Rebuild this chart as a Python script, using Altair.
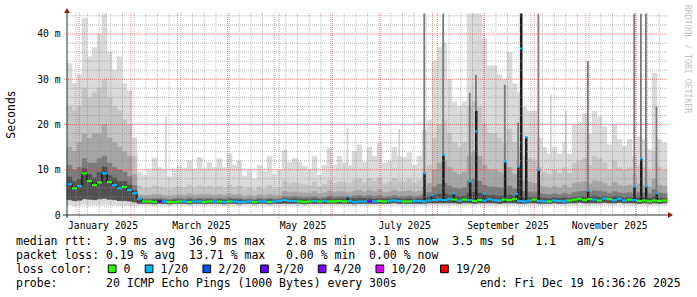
import altair as alt
import pandas as pd

MONO = "DejaVu Sans Mono"

# ---------------- data ----------------
graph_start = "2024-12-24 16:36:26"
graph_end = "2025-12-19 16:36:26"
column_days = 3  # each smoke column summarises three days

rtt_max = [
    33.5, 29.0, 31.0, 43.5, 35.0, 37.0, 40.0, 44.5, 36.0, 32.0, 35.0, 29.0, 27.5, 17.0, 9.5,
    8.7, 9.8, 12.6, 10.5, 10.0, 8.5, 10.0, 10.8, 10.3, 12.0, 10.0, 12.7, 10.3, 11.7, 10.5,
    12.5, 10.5, 13.5, 11.0, 12.0, 8.6, 10.0, 8.0, 11.0, 9.5, 13.0, 9.0, 10.0, 14.4, 11.7,
    12.5, 11.7, 10.8, 10.0, 13.0, 8.8, 11.0, 14.8, 11.0, 13.0, 11.5, 11.0, 14.0, 15.5, 11.7,
    15.0, 13.0, 15.9, 11.5, 12.0, 15.0, 13.0, 12.7, 13.8, 11.0, 13.0, 18.7, 21.0, 34.0, 37.0,
    38.0, 30.0, 25.0, 24.0, 25.0, 44.5, 44.5, 44.5, 39.0, 33.0, 33.0, 31.0, 30.0, 36.0, 29.0,
    27.0, 24.0, 23.0, 23.0, 17.0, 15.0, 13.5, 15.0, 13.5, 16.0, 13.5, 20.0, 20.4, 22.5, 18.0,
    23.0, 21.7, 19.5, 15.5, 20.0, 16.7, 15.2, 16.7, 13.0, 17.3, 16.7, 14.5, 31.3, 16.7, 15.9,
]
rtt_p90 = [
    24.0, 23.0, 24.0, 28.0, 26.0, 27.0, 28.0, 30.0, 26.0, 24.0, 23.0, 21.0, 20.0, 13.0, 6.5,
    5.8, 6.0, 6.5, 6.2, 5.9, 5.6, 6.0, 6.3, 6.1, 6.6, 6.0, 6.5, 6.2, 6.4, 6.0,
    6.3, 6.0, 6.6, 6.2, 6.4, 5.6, 6.0, 5.5, 6.2, 5.8, 6.5, 5.7, 6.0, 7.5, 7.0,
    7.2, 7.0, 6.8, 6.5, 7.3, 6.2, 6.8, 7.6, 7.0, 7.4, 7.2, 7.0, 7.6, 8.0, 7.2,
    8.0, 7.5, 8.2, 7.0, 7.3, 8.0, 7.5, 7.4, 7.8, 7.0, 7.6, 9.5, 11.0, 17.0, 20.0,
    21.0, 18.0, 16.0, 15.0, 16.0, 24.0, 25.0, 24.0, 20.0, 18.0, 18.0, 17.0, 16.0, 19.0, 16.0,
    15.0, 13.0, 12.5, 12.0, 10.5, 9.5, 9.0, 9.8, 9.2, 10.5, 9.2, 11.5, 12.0, 12.5, 11.0,
    13.0, 12.5, 11.5, 10.0, 12.0, 10.5, 10.0, 10.5, 9.0, 10.8, 10.5, 9.6, 14.0, 10.5, 10.0,
]
rtt_p75 = [
    15.0, 14.0, 16.0, 18.0, 17.0, 18.0, 18.0, 20.0, 17.0, 16.0, 15.0, 14.0, 13.0, 9.0, 4.5,
    4.3, 4.4, 4.6, 4.5, 4.3, 4.2, 4.4, 4.5, 4.4, 4.7, 4.4, 4.6, 4.5, 4.6, 4.4,
    4.5, 4.4, 4.7, 4.5, 4.6, 4.2, 4.4, 4.2, 4.5, 4.3, 4.6, 4.3, 4.4, 5.3, 5.0,
    5.1, 5.0, 4.9, 4.8, 5.2, 4.7, 4.9, 5.3, 5.0, 5.2, 5.1, 5.0, 5.3, 5.5, 5.1,
    5.5, 5.2, 5.6, 5.0, 5.1, 5.5, 5.2, 5.2, 5.4, 5.0, 5.3, 6.2, 7.0, 10.0, 11.5,
    12.0, 10.5, 9.5, 9.0, 9.5, 13.0, 14.0, 13.0, 11.0, 10.0, 10.0, 9.5, 9.0, 10.5, 9.0,
    8.5, 7.5, 7.3, 7.0, 6.5, 6.2, 6.0, 6.3, 6.0, 6.6, 6.0, 7.0, 7.2, 7.4, 6.8,
    7.6, 7.4, 7.0, 6.4, 7.2, 6.6, 6.4, 6.6, 6.0, 6.8, 6.6, 6.2, 8.0, 6.6, 6.4,
]
rtt_p60 = [
    11.0, 10.0, 10.5, 12.5, 11.5, 11.5, 12.5, 13.0, 11.5, 10.5, 10.0, 9.5, 8.5, 6.5, 3.8,
    3.6, 3.6, 3.7, 3.7, 3.6, 3.5, 3.6, 3.7, 3.6, 3.8, 3.6, 3.7, 3.7, 3.7, 3.6,
    3.7, 3.6, 3.8, 3.7, 3.7, 3.5, 3.6, 3.5, 3.7, 3.6, 3.7, 3.6, 3.6, 4.1, 4.0,
    4.1, 4.0, 3.9, 3.9, 4.1, 3.8, 3.9, 4.2, 4.0, 4.1, 4.1, 4.0, 4.2, 4.3, 4.1,
    4.3, 4.1, 4.3, 4.0, 4.1, 4.3, 4.1, 4.1, 4.2, 4.0, 4.2, 4.6, 5.0, 6.2, 6.8,
    7.0, 6.4, 6.0, 5.8, 6.0, 7.5, 8.0, 7.5, 6.6, 6.2, 6.2, 6.0, 5.8, 6.4, 5.8,
    5.6, 5.2, 5.1, 5.0, 4.8, 4.6, 4.5, 4.7, 4.5, 4.8, 4.5, 5.0, 5.2, 5.3, 5.0,
    5.4, 5.3, 5.1, 4.8, 5.2, 4.9, 4.8, 4.9, 4.5, 5.0, 4.9, 4.7, 5.6, 4.9, 4.8,
]
rtt_core = [
    8.4, 7.4, 7.9, 10.2, 9.0, 8.2, 9.4, 10.6, 8.8, 8.2, 7.4, 7.4, 6.6, 5.4, 3.5,
    3.3, 3.3, 3.4, 3.4, 3.3, 3.2, 3.3, 3.4, 3.3, 3.4, 3.3, 3.4, 3.3, 3.4, 3.3,
    3.4, 3.3, 3.4, 3.4, 3.4, 3.2, 3.3, 3.2, 3.4, 3.3, 3.4, 3.3, 3.3, 3.6, 3.5,
    3.6, 3.5, 3.4, 3.4, 3.6, 3.4, 3.5, 3.7, 3.5, 3.6, 3.6, 3.5, 3.7, 3.7, 3.6,
    3.6, 3.5, 3.6, 3.5, 3.6, 3.7, 3.6, 3.5, 3.6, 3.5, 3.6, 3.8, 4.0, 4.4, 4.6,
    4.7, 4.4, 4.2, 4.1, 4.2, 4.8, 5.0, 4.8, 4.4, 4.3, 4.3, 4.2, 4.2, 4.4, 4.2,
    4.0, 3.9, 3.9, 3.9, 3.8, 3.7, 3.6, 3.8, 3.7, 3.8, 3.7, 3.9, 4.1, 4.0, 4.0,
    4.2, 4.0, 4.1, 3.9, 4.1, 4.0, 3.8, 3.9, 3.8, 3.9, 3.8, 3.7, 4.0, 3.8, 3.7,
]
rtt_low = [
    3.4, 3.2, 3.3, 3.6, 3.5, 3.4, 3.6, 3.7, 3.5, 3.4, 3.2, 3.2, 3.1, 2.9, 2.6,
    2.6, 2.6, 2.5, 2.6, 2.6, 2.5, 2.6, 2.6, 2.6, 2.5, 2.6, 2.6, 2.5, 2.6, 2.6,
    2.6, 2.5, 2.6, 2.6, 2.5, 2.6, 2.6, 2.5, 2.6, 2.6, 2.5, 2.6, 2.6, 2.6, 2.6,
    2.6, 2.6, 2.5, 2.6, 2.6, 2.6, 2.6, 2.6, 2.6, 2.6, 2.6, 2.6, 2.5, 2.6, 2.6,
    2.6, 2.6, 2.6, 2.6, 2.6, 2.7, 2.6, 2.6, 2.6, 2.6, 2.6, 2.6, 2.7, 2.7, 2.7,
    2.7, 2.7, 2.7, 2.6, 2.7, 2.7, 2.6, 2.7, 2.7, 2.7, 2.7, 2.6, 2.7, 2.7, 2.7,
    2.6, 2.6, 2.7, 2.7, 2.6, 2.6, 2.6, 2.7, 2.6, 2.6, 2.7, 2.7, 2.8, 2.7, 2.7,
    2.7, 2.7, 2.8, 2.7, 2.7, 2.8, 2.7, 2.7, 2.7, 2.6, 2.7, 2.6, 2.7, 2.6, 2.7,
]
rtt_min = [
    2.2, 2.1, 2.2, 2.3, 2.2, 2.2, 2.3, 2.3, 2.2, 2.2, 2.1, 2.1, 2.1, 2.1, 2.2,
    2.2, 2.2, 2.1, 2.2, 2.2, 2.1, 2.2, 2.2, 2.2, 2.1, 2.2, 2.2, 2.1, 2.2, 2.2,
    2.2, 2.1, 2.2, 2.2, 2.1, 2.2, 2.2, 2.1, 2.2, 2.2, 2.1, 2.2, 2.2, 2.2, 2.2,
    2.2, 2.2, 2.1, 2.2, 2.2, 2.2, 2.2, 2.2, 2.2, 2.2, 2.2, 2.2, 2.1, 2.2, 2.2,
    2.2, 2.2, 2.2, 2.2, 2.2, 2.2, 2.2, 2.2, 2.2, 2.2, 2.2, 2.2, 2.2, 2.2, 2.2,
    2.2, 2.2, 2.2, 2.2, 2.2, 2.2, 2.2, 2.2, 2.2, 2.2, 2.2, 2.2, 2.2, 2.2, 2.2,
    2.2, 2.2, 2.2, 2.2, 2.2, 2.2, 2.2, 2.2, 2.2, 2.2, 2.2, 2.2, 2.3, 2.2, 2.2,
    2.2, 2.2, 2.3, 2.2, 2.2, 2.3, 2.2, 2.2, 2.2, 2.2, 2.2, 2.2, 2.2, 2.2, 2.2,
]
rtt_median = [
    6.8, 5.9, 6.4, 9.2, 7.5, 6.6, 7.2, 9.2, 7.3, 6.6, 5.9, 6.2, 5.5, 4.8, 3.6,
    3.0, 3.0, 2.9, 3.0, 3.0, 2.9, 2.9, 3.0, 3.0, 2.9, 3.0, 3.0, 2.9, 3.0, 3.0,
    3.0, 2.9, 3.0, 3.0, 2.9, 2.9, 3.0, 2.9, 3.0, 3.0, 2.9, 3.0, 3.1, 3.3, 3.1,
    3.1, 3.0, 2.9, 3.0, 3.1, 3.0, 3.1, 3.0, 3.0, 3.1, 3.0, 3.1, 2.9, 3.0, 3.0,
    3.0, 3.0, 3.1, 3.0, 3.1, 3.2, 3.1, 3.0, 3.0, 3.1, 3.1, 3.0, 3.2, 3.3, 3.4,
    3.3, 3.5, 3.4, 3.2, 3.4, 3.3, 3.1, 3.3, 3.2, 3.5, 3.3, 3.2, 3.4, 3.3, 3.5,
    3.1, 3.0, 3.2, 3.4, 3.1, 3.0, 3.0, 3.2, 3.1, 3.0, 3.2, 3.4, 3.6, 3.3, 3.5,
    3.4, 3.2, 3.6, 3.5, 3.3, 3.6, 3.2, 3.4, 3.3, 3.1, 3.2, 3.0, 3.2, 3.1, 3.2,
]
loss_count = [
    1, 0, 1, 0, 0, 0, 0, 1, 0, 1, 1, 0, 1, 1, 1,
    0, 0, 0, 3, 1, 0, 0, 0, 1, 0, 1, 1, 0, 0, 1,
    0, 1, 0, 1, 1, 1, 1, 0, 1, 1, 0, 1, 1, 1, 1,
    1, 0, 0, 0, 1, 0, 1, 0, 0, 0, 0, 1, 1, 1, 1,
    4, 1, 0, 0, 1, 1, 1, 0, 0, 1, 1, 1, 1, 1, 1,
    1, 1, 0, 1, 0, 1, 0, 0, 1, 1, 1, 1, 0, 0, 0,
    1, 1, 1, 0, 1, 1, 0, 1, 1, 1, 0, 0, 0, 0, 0,
    1, 0, 1, 0, 1, 1, 1, 0, 1, 0, 0, 0, 0, 0, 0,
]

# short latency spikes (one-day values)
spike_time = ["2025-06-10 12:00", "2025-07-26 12:00", "2025-07-30 20:00", "2025-08-06 20:00",
              "2025-08-13 02:00", "2025-08-22 20:00", "2025-08-26 12:00", "2025-08-31 02:00",
              "2025-09-12 20:00", "2025-09-19 20:00", "2025-09-20 20:00", "2025-09-22 12:00",
              "2025-09-25 12:00", "2025-10-03 00:00", "2025-11-01 16:00", "2025-11-29 12:00",
              "2025-12-03 12:00", "2025-12-06 12:00", "2025-12-12 20:00"]
spike_median = [4.1, 9.2, 4.4, 13.3, 4.8, 7.4, 18.5, 4.7, 11.8, 4.6, 10.7, 36.8, 17.2, 10.0,
                5.4, 6.3, 12.5, 6.4, 4.8]
spike_dark_top = [4.1, 9.2, 4.4, 13.3, 4.8, 7.4, 23.0, 4.7, 11.8, 4.6, 10.7, 44.5, 17.2, 10.0,
                  5.4, 6.3, 12.5, 6.4, 4.8]
spike_gray_top = [4.1, 44.5, 4.4, 44.5, 4.8, 27.0, 31.0, 4.7, 28.8, 4.6, 20.4, 44.5, 17.2, 44.5,
                  34.0, 44.5, 44.5, 44.5, 24.0]
spike_base = [2.9] * len(spike_time)
spike_loss = [1] * len(spike_time)

thin_time = ["2025-02-21 12:00", "2025-06-10 12:00", "2025-07-11 12:00", "2025-10-10 12:00",
             "2025-10-19 12:00"]
thin_top = [21.6, 19.3, 19.0, 26.5, 23.0]

loss_levels = [0, 1, 2, 3, 4, 10, 19]
loss_colors = ["#26ff00", "#00b8ff", "#0059ff", "#5e00ff", "#7e00ff", "#dd00ff", "#ff0000"]
loss_labels = ["0", "1/20", "2/20", "3/20", "4/20", "10/20", "19/20"]

y_ticks = [0, 10, 20, 30, 40]
x_label_months = [1, 3, 5, 7, 9, 11]

rtt_fields = ["3.9 ms avg", "36.9 ms max", "2.8 ms min", "3.1 ms now", "3.5 ms sd", "1.1", "am/s"]
rtt_cols = [13, 25, 39, 51, 63, 75, 81]
pl_fields = ["0.19 % avg", "13.71 % max", "0.00 % min", "0.00 % now"]
pl_cols = [13, 25, 39, 51]
probe_text = "20 ICMP Echo Pings (1000 Bytes) every 300s"
end_text = "end: Fri Dec 19 16:36:26 2025"
watermark = "RRDTOOL / TOBI OETIKER"

# ---------------- frames ----------------
t_start = pd.Timestamp(graph_start)
n = len(rtt_max)
col_start = [t_start + pd.Timedelta(days=column_days * k) for k in range(n)]
col_end = [t_start + pd.Timedelta(days=column_days * (k + 1)) for k in range(n)]
cols = pd.DataFrame({
    "t0": col_start, "t1": col_end, "mn": rtt_min, "lo": rtt_low, "core": rtt_core,
    "p60": rtt_p60, "p75": rtt_p75, "p90": rtt_p90, "mx": rtt_max,
    "med": rtt_median, "loss": loss_count,
})
spk_t = pd.to_datetime(spike_time)
spikes = pd.DataFrame({
    "t0": spk_t, "t1": spk_t + pd.Timedelta(hours=36), "tg": spk_t + pd.Timedelta(hours=26),
    "base": spike_base, "med": spike_median, "dark": spike_dark_top,
    "gray": spike_gray_top, "loss": spike_loss,
})
thn_t = pd.to_datetime(thin_time)
thin = pd.DataFrame({"t0": thn_t, "t1": thn_t + pd.Timedelta(hours=24),
                     "lo": [2.5] * len(thin_time), "hi": thin_top})

month_lines = pd.DataFrame({"t": pd.date_range("2025-01-01", periods=12, freq="MS")})
week_lines = pd.DataFrame({"t": pd.date_range("2024-12-30", "2025-12-15", freq="7D")})
y_major = pd.DataFrame({"v": [10, 20, 30, 40]})
y_minor = pd.DataFrame({"v": [v for v in range(2, 45, 2) if v % 10]})
one = pd.DataFrame({"a": [0]})

# ---------------- scales / axes ----------------
W, H = 600, 202
x_scale = alt.Scale(domain=[
    alt.DateTime(year=2024, month=12, date=24, hours=16, minutes=36, seconds=26),
    alt.DateTime(year=2025, month=12, date=19, hours=16, minutes=36, seconds=26)], nice=False)
y_scale = alt.Scale(domain=[0, 44.64], nice=False, zero=False)

x_axis = alt.Axis(
    values=[alt.DateTime(year=2025, month=m, date=15) for m in x_label_months],
    format="%B %Y", grid=False, ticks=False, domain=False, labelFont=MONO,
    labelFontSize=9.7, labelColor="#000000", labelPadding=5, title=None,
    labelOverlap=False, labelFlush=False)
y_axis = alt.Axis(
    values=y_ticks,
    labelExpr="datum.value == 0 ? '0\u00a0\u00a0' : datum.value + '\u00a0m'",
    grid=False, ticks=False, domain=False, labelFont=MONO, labelFontSize=9.7,
    labelColor="#000000", labelPadding=7, title="Seconds", titleFont=MONO,
    titleFontSize=11.5, titleFontWeight="normal", titleColor="#000000",
    titleAngle=270, titleX=-56, titleY=101, titleAlign="center", titleBaseline="middle")


def X(field):
    return alt.X(field, scale=x_scale, axis=x_axis)


def Y(field):
    return alt.Y(field, scale=y_scale, axis=y_axis)


def band(lo, hi, color):
    return alt.Chart(cols).mark_rect(color=color, stroke=color, strokeWidth=0.5).encode(
        x=X("t0:T"), x2="t1:T", y=Y(f"{lo}:Q"), y2=f"{hi}:Q")


layers = [band("mn", "mx", "#dadada")]
layers.append(alt.Chart(thin).mark_rect(color="#d0d0d0").encode(
    x=X("t0:T"), x2="t1:T", y=Y("lo:Q"), y2="hi:Q"))
layers += [band("lo", "p90", "#c4c4c4"), band("lo", "p75", "#a6a6a6"),
           band("lo", "p60", "#7c7c7c"), band("lo", "core", "#505050")]

layers.append(alt.Chart(spikes).mark_rect(color="#7a7a7a").encode(
    x=X("t0:T"), x2="tg:T", y=Y("base:Q"), y2="gray:Q"))
layers.append(alt.Chart(spikes).mark_rect(color="#1e1e1e").encode(
    x=X("t0:T"), x2="t1:T", y=Y("base:Q"), y2="dark:Q"))

# grid
dash = [1, 1]
layers.append(alt.Chart(week_lines).mark_rule(color="#8c8c8c", opacity=0.6, strokeDash=dash).encode(
    x=X("t:T")))
layers.append(alt.Chart(y_minor).mark_rule(color="#8c8c8c", opacity=0.6, strokeDash=dash).encode(
    y=Y("v:Q")))
layers.append(alt.Chart(month_lines).mark_rule(color="#e83030", opacity=0.55, strokeDash=dash).encode(
    x=X("t:T"), y=alt.value(0), y2=alt.value(H + 3)))
layers.append(alt.Chart(y_major).mark_rule(color="#e83030", opacity=0.55, strokeDash=dash).encode(
    y=Y("v:Q"), x=alt.value(-3), x2=alt.value(W)))

# median
layers.append(alt.Chart(cols).mark_line(color="#000000", strokeWidth=1, interpolate="step-after").encode(
    x=X("t0:T"), y=Y("med:Q")))
loss_scale = alt.Scale(domain=loss_levels, range=loss_colors)
layers.append(alt.Chart(cols).mark_rule(strokeWidth=2.2).encode(
    x=X("t0:T"), x2="t1:T", y=Y("med:Q"),
    color=alt.Color("loss:N", scale=loss_scale, legend=None)))
layers.append(alt.Chart(spikes).mark_rule(strokeWidth=2.2).encode(
    x=X("t0:T"), x2="t1:T", y=Y("med:Q"),
    color=alt.Color("loss:N", scale=loss_scale, legend=None)))

# axis lines and arrows
layers.append(alt.Chart(one).mark_rule(color="#303030", strokeWidth=1).encode(
    x=alt.value(-4), x2=alt.value(W + 2), y=alt.value(H)))
layers.append(alt.Chart(one).mark_rule(color="#303030", strokeWidth=1).encode(
    x=alt.value(0), y=alt.value(-1), y2=alt.value(H + 3)))
layers.append(alt.Chart(one).mark_point(shape="triangle-right", filled=True, size=34,
                                        color="#9a1414", opacity=1).encode(
    x=alt.value(W + 3.5), y=alt.value(H)))
layers.append(alt.Chart(one).mark_point(shape="triangle-up", filled=True, size=34,
                                        color="#9a1414", opacity=1).encode(
    x=alt.value(0), y=alt.value(-2.5)))

# watermark
layers.append(alt.Chart(one).mark_text(angle=90, font=MONO, fontSize=8.2, color="#c2c2c2",
                                       align="center", baseline="middle").encode(
    x=alt.value(620), y=alt.value(46), text=alt.value(watermark)))

# legend text
OX, OY = 67, 13
CW = 0.602 * 11.5
NB = "\u00a0"


def build(label, fields, positions):
    s = label
    for f, c in zip(fields, positions):
        s = s.ljust(c) + f
    return s.replace(" ", NB)


lines = [
    build("median rtt:", rtt_fields, rtt_cols),
    build("packet loss:", pl_fields, pl_cols),
    "loss color:".replace(" ", NB),
    build("probe:", [probe_text, end_text], [13, 67]),
]
base_x = 16
base_y = 245.3
for i, s in enumerate(lines):
    layers.append(alt.Chart(one).mark_text(font=MONO, fontSize=11.5, color="#000000",
                                           align="left", baseline="alphabetic").encode(
        x=alt.value(base_x - OX), y=alt.value(base_y + 14 * i - OY), text=alt.value(s)))

sq_x = 108.3
sq_top, sq_bot = 265.0, 272.7
for lab, colr in zip(loss_labels, loss_colors):
    layers.append(alt.Chart(one).mark_rect(color=colr, stroke="#000000", strokeWidth=1).encode(
        x=alt.value(sq_x - OX), x2=alt.value(sq_x + 7.7 - OX),
        y=alt.value(sq_top - OY), y2=alt.value(sq_bot - OY)))
    lx = sq_x + 15.3
    layers.append(alt.Chart(one).mark_text(font=MONO, fontSize=11.5, color="#000000",
                                           align="left", baseline="alphabetic").encode(
        x=alt.value(lx - OX), y=alt.value(base_y + 28 - OY), text=alt.value(lab)))
    sq_x = lx + len(lab) * CW + 14.7

chart = alt.layer(*layers).properties(
    width=W, height=H,
    padding={"left": OX, "top": OY, "right": 697 - OX - W, "bottom": 297 - OY - H},
    autosize=alt.AutoSizeParams(type="none"),
    background="#ffffff",
).configure_view(stroke=None)

chart.save("out.html", embed_options={"renderer": "svg", "actions": False})
